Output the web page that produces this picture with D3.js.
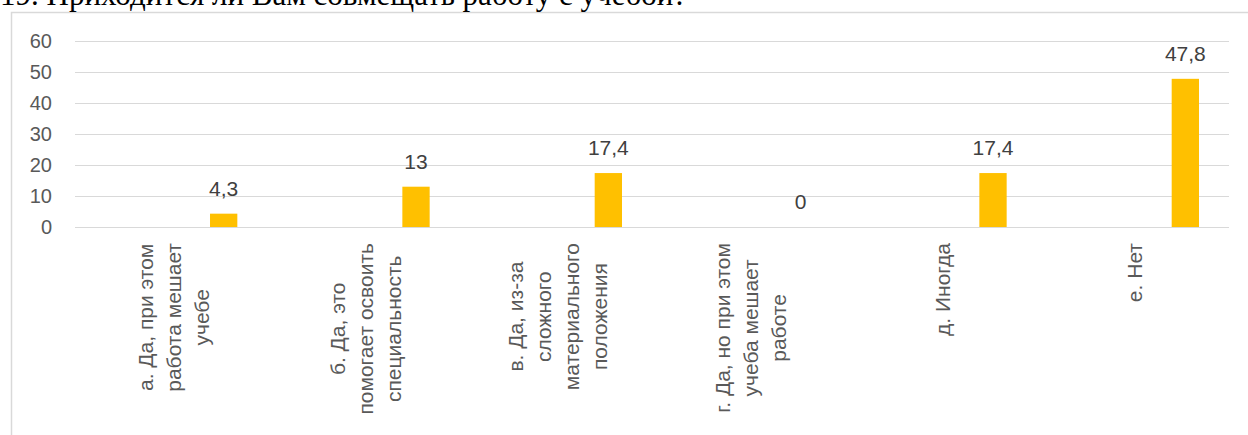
<!DOCTYPE html>
<html>
<head>
<meta charset="utf-8">
<script src="https://cdn.jsdelivr.net/npm/d3@7"></script>
<style>
  html, body { margin: 0; padding: 0; background: #fff; }
  svg { display: block; }
</style>
</head>
<body>
<svg id="chart" width="1248" height="435"></svg>
<script>
const title = "19. Приходится ли Вам совмещать работу с учебой?";
const categories = ["а", "б", "в", "г", "д", "е"];
const categoryLines = [
  ["а. Да, при этом", "работа мешает", "учебе"],
  ["б. Да, это", "помогает освоить", "специальность"],
  ["в. Да, из-за", "сложного", "материального", "положения"],
  ["г. Да, но при этом", "учеба мешает", "работе"],
  ["д. Иногда"],
  ["е. Нет"]
];
const values = [4.3, 13, 17.4, 0, 17.4, 47.8];
const valueLabels = ["4,3", "13", "17,4", "0", "17,4", "47,8"];
const yTicks = [0, 10, 20, 30, 40, 50, 60];

const svg = d3.select("#chart");

// frame
svg.append("rect")
  .attr("x", 11.5).attr("y", 12.5)
  .attr("width", 1250).attr("height", 450)
  .attr("fill", "#fff").attr("stroke", "#d9d9d9").attr("stroke-width", 1.5);

// title (partly cut at the top, as in the reference)
svg.append("text")
  .attr("x", 0).attr("y", 5)
  .attr("font-family", "'Liberation Serif', 'Times New Roman', serif")
  .attr("font-size", 31)
  .attr("fill", "#000")
  .text(title);

const plotLeft = 75, plotRight = 1229;
const x = d3.scaleBand().domain(categories).range([plotLeft, plotRight]).padding(0);
const y = d3.scaleLinear().domain([0, 60]).range([227, 41]);

// gridlines
svg.append("g").selectAll("line").data(yTicks).join("line")
  .attr("x1", plotLeft).attr("x2", plotRight)
  .attr("y1", d => Math.round(y(d)) + 0.5).attr("y2", d => Math.round(y(d)) + 0.5)
  .attr("stroke", "#d9d9d9").attr("stroke-width", 1.2);

// y axis labels
const yAxis = d3.axisLeft(y).tickValues(yTicks).tickSize(0).tickPadding(0).tickFormat(d3.format("d"));
const yg = svg.append("g").attr("transform", "translate(52,0)").call(yAxis);
yg.select(".domain").remove();
yg.selectAll("text")
  .attr("font-family", "'Liberation Sans', Arial, sans-serif")
  .attr("font-size", 20)
  .attr("fill", "#595959");

// bars (series positioned at the right part of each category band)
const barOffset = 0.702, barWidth = 0.142;
const bw = x.bandwidth();
svg.append("g").selectAll("rect").data(values).join("rect")
  .attr("x", (d, i) => x(categories[i]) + bw * barOffset)
  .attr("width", bw * barWidth)
  .attr("y", d => y(d))
  .attr("height", d => y(0) - y(d))
  .attr("fill", "#FFC000");

// value labels
svg.append("g").selectAll("text").data(values).join("text")
  .attr("x", (d, i) => x(categories[i]) + bw * (barOffset + barWidth / 2))
  .attr("y", d => y(d) - 18)
  .attr("text-anchor", "middle")
  .attr("font-family", "'Liberation Sans', Arial, sans-serif")
  .attr("font-size", 21)
  .attr("fill", "#404040")
  .text((d, i) => valueLabels[i]);

// category labels (rotated, multi-line, centered lines, block end at top)
const lineH = 28;
const labelTop = 243;
categories.forEach((c, i) => {
  const lines = categoryLines[i];
  const cx = x(c) + bw / 2 + 2;
  const g = svg.append("g")
    .attr("transform", `translate(${cx},${labelTop}) rotate(-90)`);
  const texts = g.selectAll("text").data(lines).join("text")
    .attr("font-family", "'Liberation Sans', Arial, sans-serif")
    .attr("font-size", 21)
    .attr("fill", "#595959")
    .attr("text-anchor", "middle")
    .attr("dy", "0.35em")
    .attr("y", (d, j) => (j - (lines.length - 1) / 2) * lineH)
    .text(d => d);
  let maxW = 0;
  texts.each(function () { maxW = Math.max(maxW, this.getComputedTextLength()); });
  texts.attr("x", -maxW / 2);
});
</script>
</body>
</html>
